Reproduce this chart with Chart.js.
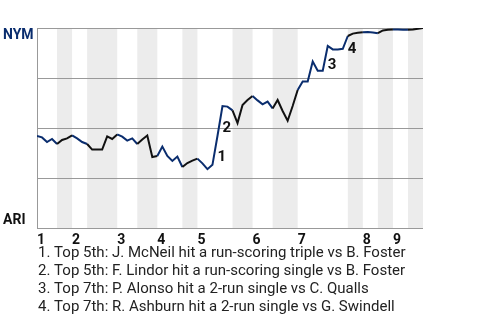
<!DOCTYPE html>
<html><head><meta charset="utf-8">
<script src="https://cdn.jsdelivr.net/npm/chart.js@4/dist/chart.umd.min.js"></script>
<style>html,body{margin:0;padding:0;background:#fff;}</style>
</head><body>
<canvas id="c" width="480" height="320"></canvas>
<script>
const awayTeam = 'NYM';
const homeTeam = 'ARI';
const plays = [0,1,2,3,4,5,6,7,8,9,10,11,12,13,14,15,16,17,18,19,20,21,22,23,24,25,26,27,28,29,30,31,32,33,34,35,36,37,38,39,40,41,42,43,44,45,46,47,48,49,50,51,52,53,54,55,56,57,58,59,60,61,62,63,64,65,66,67,68,69,70,71,72,73,74,75,76,77];
const winProb = [46,45.3,43,44.5,42,44,44.8,46.3,44.8,43,42,39.2,39.2,39.2,45.8,44.5,46.8,45.7,43.7,44.8,42,44.3,46.3,35.5,36,40.7,36,33.5,35.7,30.5,32.5,33.7,34.7,32.3,29.4,31.6,46,61,60.7,58.8,52.5,61.5,64,66,63.8,61.8,63.2,59.8,64,58.5,53.6,61,69,73.2,73.2,83.2,78.6,78.6,91,89.3,89.3,89.6,96,97.2,97.6,97.9,98,97.8,97.4,98.8,99.1,99.3,99.2,99.1,99.1,99.3,99.6,100];
const halfInningStarts = [0,4,7,10,16,20,24,29,32,39,43,47,52,62,65,68,71,74];
const lastPlay = 77;
const inningLabels = ['1','2','3','4','5','6','7','8','9'];
const eventPlays = [36,37,58,62];
const eventLabels = ['1','2','3','4'];
const eventNotes = [
  '1. Top 5th: J. McNeil hit a run-scoring triple vs B. Foster',
  '2. Top 5th: F. Lindor hit a run-scoring single vs B. Foster',
  '3. Top 7th: P. Alonso hit a 2-run single vs C. Qualls',
  '4. Top 7th: R. Ashburn hit a 2-run single vs G. Swindell'
];

const NAVY = '#0a2d6e';
const DARK = '#111111';

function halfIndex(i){
  let h = 0;
  for (let j = 0; j < halfInningStarts.length; j++) { if (i >= halfInningStarts[j]) h = j; }
  return h;
}

const bands = {
  id: 'bands',
  beforeDraw(chart){
    const {ctx, chartArea: a, scales: {x}} = chart;
    ctx.save();
    ctx.fillStyle = '#ececec';
    for (let h = 1; h < halfInningStarts.length; h += 2) {
      const s = halfInningStarts[h];
      const e = h + 1 < halfInningStarts.length ? halfInningStarts[h+1] : lastPlay;
      const x0 = x.getPixelForValue(s), x1 = x.getPixelForValue(e);
      ctx.fillRect(x0, a.top, x1 - x0, a.bottom - a.top);
    }
    ctx.restore();
  }
};

const texts = {
  id: 'texts',
  afterDraw(chart){
    const {ctx, chartArea: a, scales: {x, y}} = chart;
    ctx.save();
    ctx.textAlign = 'left';
    ctx.textBaseline = 'alphabetic';
    ctx.font = 'bold 14px Roboto';
    ctx.fillStyle = NAVY;
    ctx.fillText(awayTeam, 3, a.top + 11);
    ctx.fillStyle = DARK;
    ctx.fillText(homeTeam, 3, a.bottom - 4);
    ctx.font = 'bold 15px Roboto';
    ctx.fillStyle = DARK;
    eventPlays.forEach((p, i) => {
      const px = x.getPixelForValue(p);
      const mid = (y.getPixelForValue(winProb[p-1]) + y.getPixelForValue(winProb[p])) / 2;
      ctx.fillText(eventLabels[i], px, mid + 10.5);
    });
    ctx.font = '15px Roboto';
    ctx.fillStyle = '#222222';
    eventNotes.forEach((t, i) => ctx.fillText(t, 38, 257 + 18 * i));
    ctx.restore();
  }
};

new Chart(document.getElementById('c'), {
  type: 'line',
  data: {
    datasets: [{
      data: plays.map((p, i) => ({x: p, y: winProb[i]})),
      borderColor: NAVY,
      borderWidth: 2,
      pointRadius: 0,
      tension: 0,
      fill: false,
      segment: { borderColor: c => halfIndex(c.p0DataIndex) % 2 === 0 ? NAVY : DARK }
    }]
  },
  options: {
    responsive: false,
    animation: false,
    events: [],
    layout: { padding: { left: 37, top: 28, right: 57, bottom: 72 } },
    plugins: { legend: { display: false }, tooltip: { enabled: false } },
    scales: {
      x: {
        type: 'linear', min: 0, max: lastPlay,
        grid: { display: false, drawTicks: false },
        border: { display: false },
        afterBuildTicks: s => { s.ticks = halfInningStarts.filter((v, i) => i % 2 === 0).map(v => ({value: v})); },
        ticks: {
          align: 'start', padding: 4, autoSkip: false, maxRotation: 0, minRotation: 0,
          font: { family: 'Roboto', size: 14, weight: 'bold' }, color: DARK,
          callback: (v, i) => inningLabels[i]
        },
        afterFit: s => { s.height = 20; }
      },
      y: {
        min: 0, max: 100,
        ticks: { display: false, stepSize: 25 },
        grid: { color: '#999999', drawTicks: false, lineWidth: 1 },
        border: { display: true, color: '#999999' },
        afterFit: s => { s.width = 0; }
      }
    }
  },
  plugins: [bands, texts]
});
</script>
</body></html>
